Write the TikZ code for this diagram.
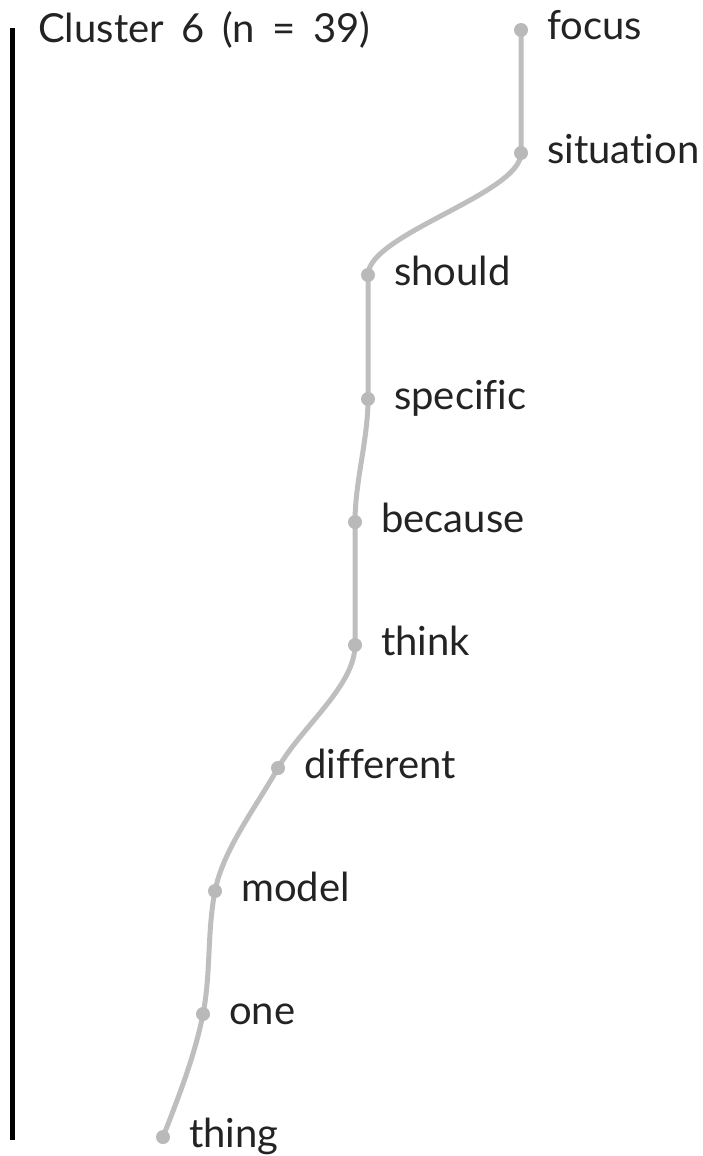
\documentclass[tikz,border=0pt]{standalone}
\usepackage{fontspec}
\setmainfont{Lato}[Ligatures={NoCommon}]
\definecolor{curvegray}{RGB}{190,190,190}
\definecolor{dotgray}{RGB}{185,185,185}
\definecolor{textgray}{RGB}{35,35,35}
\newcommand{\widespaces}{\spaceskip=0.44em\relax}
\begin{document}
\begin{tikzpicture}[x=1pt,y=-1pt,
  wordlabel/.style={anchor=base west, inner sep=0pt, text=textgray, font=\fontsize{40}{44}\selectfont},
  dotmark/.style={fill=dotgray, draw=none},
  trail/.style={draw=curvegray, line width=5pt, line cap=round}]
\useasboundingbox (0,0) rectangle (703,1156);
\fill[white] (0,0) rectangle (703,1156);
% axis bar
\coordinate (bartop) at (12,28);
\coordinate (barbot) at (12,1140);
\draw[line width=5pt, black] (bartop) -- (barbot);
\node[wordlabel] (title) at (38,43) {\widespaces Cluster 6 (n = 39)};
% points
\coordinate (p1) at (521,30);
\coordinate (p2) at (521,153);
\coordinate (p3) at (368,275);
\coordinate (p4) at (368,399);
\coordinate (p5) at (355,522);
\coordinate (p6) at (355,645);
\coordinate (p7) at (278,768);
\coordinate (p8) at (215,891);
\coordinate (p9) at (203,1014);
\coordinate (p10) at (163,1137);
\draw[trail] (p1) -- (p2)
  .. controls ([shift={(0,40.7)}]p2) and ([shift={(0,-40.7)}]p3) .. (p3)
  -- (p4)
  .. controls ([shift={(0,41)}]p4) and ([shift={(0,-41)}]p5) .. (p5)
  -- (p6)
  .. controls ([shift={(0,41)}]p6) and ([shift={(23.3,-41)}]p7) .. (p7)
  .. controls ([shift={(-23.3,41)}]p7) and ([shift={(8,-41)}]p8) .. (p8)
  .. controls ([shift={(-8,41)}]p8) and ([shift={(8,-41)}]p9) .. (p9)
  .. controls ([shift={(-8,41)}]p9) and ([shift={(16,-41)}]p10) .. (p10);
\foreach \p in {p1,p2,p3,p4,p5,p6,p7,p8,p9,p10} \fill[dotmark] (\p) circle (7);
\node[wordlabel] (l1) at ([shift={(26,10)}]p1) {focus};
\node[wordlabel] (l2) at ([shift={(26,10)}]p2) {situation};
\node[wordlabel] (l3) at ([shift={(26,10)}]p3) {should};
\node[wordlabel] (l4) at ([shift={(26,10)}]p4) {specific};
\node[wordlabel] (l5) at ([shift={(26,10)}]p5) {because};
\node[wordlabel] (l6) at ([shift={(26,10)}]p6) {think};
\node[wordlabel] (l7) at ([shift={(26,10)}]p7) {different};
\node[wordlabel] (l8) at ([shift={(26,10)}]p8) {model};
\node[wordlabel] (l9) at ([shift={(26,10)}]p9) {one};
\node[wordlabel] (l10) at ([shift={(26,10)}]p10) {thing};
\end{tikzpicture}
\end{document}
